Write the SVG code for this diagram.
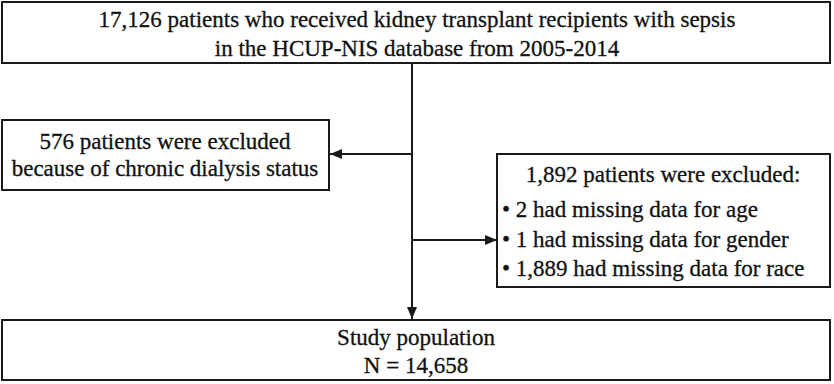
<svg xmlns="http://www.w3.org/2000/svg" width="834" height="384" viewBox="0 0 834 384">
<defs>
<style>
.box{fill:#fff;stroke:#1a1a1a;stroke-width:2}
.t{font-family:"Liberation Serif","Times New Roman",serif;font-size:23px;fill:#111;stroke:#111;stroke-width:0.3}
.c{text-anchor:middle}
.ln{stroke:#1a1a1a;stroke-width:2;fill:none}
</style>
<marker id="ah" viewBox="0 0 12 10" refX="12" refY="5" markerWidth="12" markerHeight="10" markerUnits="userSpaceOnUse" orient="auto">
<path d="M0,0 L12,5 L0,10 z" fill="#1a1a1a"/>
</marker>
</defs>
<rect width="834" height="384" fill="#fff"/>
<g id="connectors">
<line class="ln" x1="412" y1="63" x2="412" y2="319" marker-end="url(#ah)"/>
<line class="ln" x1="412" y1="154" x2="330" y2="154" marker-end="url(#ah)"/>
<line class="ln" x1="412" y1="240" x2="497" y2="240" marker-end="url(#ah)"/>
</g>
<g id="n1">
<rect class="box" x="2" y="2" width="828" height="61"/>
<text class="t c" x="417" y="27">17,126 patients who received kidney transplant recipients with sepsis</text>
<text class="t c" x="417" y="56">in the HCUP-NIS database from 2005-2014</text>
</g>
<g id="n2">
<rect class="box" x="2" y="120" width="327" height="70"/>
<text class="t c" x="165" y="149">576 patients were excluded</text>
<text class="t c" x="165" y="176">because of chronic dialysis status</text>
</g>
<g id="n3">
<rect class="box" x="497" y="154" width="333" height="133"/>
<text class="t c" x="663" y="182">1,892 patients were excluded:</text>
<text class="t" x="502" y="217">• 2 had missing data for age</text>
<text class="t" x="502" y="247">• 1 had missing data for gender</text>
<text class="t" x="502" y="276">• 1,889 had missing data for race</text>
</g>
<g id="n4">
<rect class="box" x="2" y="320" width="828" height="60"/>
<text class="t c" x="416" y="345">Study population</text>
<text class="t c" x="416" y="373">N = 14,658</text>
</g>
</svg>
